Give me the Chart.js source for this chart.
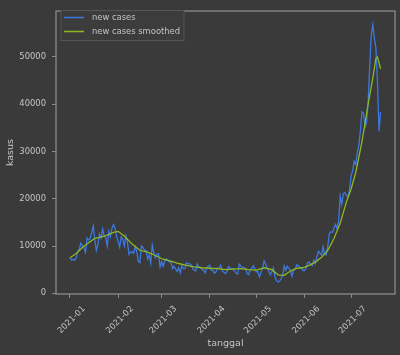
<!DOCTYPE html>
<html>
<head>
<meta charset="utf-8">
<script src="https://cdn.jsdelivr.net/npm/chart.js@4.4.1/dist/chart.umd.min.js"></script>
<style>
  html, body { margin: 0; padding: 0; background: #3a3a3a; }
  canvas { display: block; }
</style>
</head>
<body>
<canvas id="myChart" width="400" height="355"></canvas>
<script>
// daily new cases, 2021-01-01 .. 2021-07-20 (day 0 = 2021-01-01)
const casesJan = [7600, 7000, 7203, 6953, 7445, 8854, 9321, 10617, 10046, 9640, 8692, 11700, 11278, 11557, 12818, 14224, 11287, 9086, 10365, 12568, 11703, 13632, 12191, 11788, 9994, 13094, 11948, 13695, 14518, 13802, 12001];
const casesFeb = [10994, 9759, 11984, 11434, 10023, 12156, 10827, 8242, 8700, 8776, 8435, 9869, 8844, 6765, 6462, 10029, 9687, 9039, 9051, 7300, 8054, 6356, 10180, 8493, 7533, 8232, 8322, 5560];
const casesMar = [6680, 5712, 6808, 7264, 6971, 6614, 6736, 5200, 5663, 5144, 4602, 5382, 4316, 5826, 5218, 5176, 6486, 6195, 6252, 6013, 5267, 4866, 4758, 6172, 5514, 5451, 5042, 4913, 4331, 5297, 5701];
const casesApr = [5937, 4805, 4878, 4236, 4549, 5325, 5205, 5962, 4764, 4447, 4182, 4560, 5656, 5377, 5177, 5188, 4712, 4249, 4069, 6177, 5720, 5537, 5436, 5293, 4221, 3955, 4952, 5241, 5833, 5286];
const casesMay = [4512, 4592, 3480, 4369, 5285, 6874, 6130, 5344, 4729, 3922, 4608, 5384, 3448, 2633, 2385, 2570, 3080, 3846, 5797, 4871, 5746, 5296, 4815, 3600, 4868, 5060, 5993, 5862, 5445, 5466, 4824];
const casesJun = [4824, 5246, 6486, 6594, 6065, 5832, 6993, 6294, 7725, 8892, 8465, 8083, 9868, 8189, 8161, 9944, 12624, 12990, 12906, 13737, 14536, 13668, 15308, 20574, 18872, 21095, 21342, 20694, 20467, 21807];
const casesJul = [24836, 25830, 27913, 27233, 29745, 31189, 34379, 38391, 38124, 35094, 36197, 40427, 47899, 54517, 56757, 54000, 51952, 44721, 34257, 38325];

// smoothed curve, read at these day offsets
const smoothDays = [0, 4, 8, 12, 16, 20, 24, 28, 31, 35, 40, 45, 50, 55, 60, 65, 70, 75, 80, 85, 90, 95, 100, 105, 110, 115, 120, 125, 130, 134, 138, 142, 146, 150, 154, 158, 162, 166, 170, 174, 178, 181, 184, 188, 192, 195, 197, 198, 200];
const smoothValues = [7500, 8400, 9700, 10700, 11600, 11900, 12300, 12900, 13100, 12100, 10400, 9100, 8700, 8000, 7200, 6800, 6300, 5900, 5600, 5400, 5300, 5200, 5000, 5100, 5200, 5000, 4900, 5400, 5000, 3900, 3800, 4700, 5300, 5400, 5900, 6600, 7600, 9100, 11600, 14800, 19300, 22000, 25500, 32000, 40000, 45500, 49700, 50000, 47500];

const monthDays = [0, 31, 59, 90, 120, 151, 181];
const monthLabels = ['2021-01', '2021-02', '2021-03', '2021-04', '2021-05', '2021-06', '2021-07'];
const yTicks = [0, 10000, 20000, 30000, 40000, 50000];

const newCases = [].concat(casesJan, casesFeb, casesMar, casesApr, casesMay, casesJun, casesJul);
const casePoints = newCases.map((v, i) => ({ x: i, y: v }));
const smoothPoints = smoothDays.map((d, i) => ({ x: d, y: smoothValues[i] }));

const textColor = '#c4c4c4';
const spineColor = '#8a8a8a';
const fontFamily = '"DejaVu Sans", sans-serif';

// box around the plot + legend like matplotlib
const framePlugin = {
    id: 'frame',
    afterDraw(chart) {
        const ctx = chart.ctx;
        const a = chart.chartArea;
        ctx.save();
        ctx.strokeStyle = spineColor;
        ctx.lineWidth = 1.3;
        ctx.strokeRect(a.left, a.top, a.right - a.left, a.bottom - a.top);

        // legend
        ctx.fillStyle = '#3c3c3c';
        ctx.strokeStyle = '#555555';
        ctx.lineWidth = 1;
        ctx.fillRect(61, 10.5, 123, 30);
        ctx.strokeRect(61, 10.5, 123, 30);
        const sets = chart.data.datasets.slice().sort((p, q) => p.legendIndex - q.legendIndex);
        ctx.font = '8.4px ' + fontFamily;
        ctx.textBaseline = 'middle';
        sets.forEach((ds, i) => {
            const y = 17.5 + i * 14;
            ctx.strokeStyle = ds.borderColor;
            ctx.lineWidth = 1.5;
            ctx.beginPath();
            ctx.moveTo(64, y);
            ctx.lineTo(84, y);
            ctx.stroke();
            ctx.fillStyle = textColor;
            ctx.fillText(ds.label, 92, y);
        });
        ctx.restore();
    }
};

new Chart(document.getElementById('myChart'), {
    type: 'line',
    data: {
        datasets: [{
            label: 'new cases',
            legendIndex: 0,
            data: casePoints,
            borderColor: '#3b78e0',
            borderWidth: 1.3,
            pointRadius: 0,
            order: 1
        }, {
            label: 'new cases smoothed',
            legendIndex: 1,
            data: smoothPoints,
            borderColor: '#8db81e',
            borderWidth: 1.3,
            pointRadius: 0,
            order: 0
        }]
    },
    options: {
        responsive: false,
        animation: false,
        layout: { padding: { top: 5, right: 5, left: 0, bottom: 0 } },
        plugins: {
            legend: { display: false },
            tooltip: { enabled: false }
        },
        scales: {
            x: {
                type: 'linear',
                min: -9,
                max: 209.3,
                afterBuildTicks: (scale) => { scale.ticks = monthDays.map(v => ({ value: v })); },
                afterFit: (scale) => { scale.height = 61; },
                grid: { display: true, drawOnChartArea: false, color: spineColor, tickLength: 4, lineWidth: 1 },
                border: { display: false },
                ticks: {
                    autoSkip: false,
                    minRotation: 45,
                    maxRotation: 45,
                    labelOffset: 14,
                    padding: 6,
                    color: textColor,
                    font: { family: fontFamily, size: 8.4 },
                    callback: (value) => monthLabels[monthDays.indexOf(value)]
                },
                title: {
                    display: true,
                    text: 'tanggal',
                    color: textColor,
                    font: { family: fontFamily, size: 9.5 },
                    padding: { top: 0, bottom: 6 }
                }
            },
            y: {
                min: -150,
                max: 59700,
                afterBuildTicks: (scale) => { scale.ticks = yTicks.map(v => ({ value: v })); },
                afterFit: (scale) => { scale.width = 56; },
                grid: { display: true, drawOnChartArea: false, color: spineColor, tickLength: 4, lineWidth: 1 },
                border: { display: false },
                ticks: {
                    padding: 6,
                    color: textColor,
                    font: { family: fontFamily, size: 8.4 },
                    callback: (value) => String(value)
                },
                title: {
                    display: true,
                    text: 'kasus',
                    color: textColor,
                    font: { family: fontFamily, size: 9.5 },
                    padding: { top: 5, bottom: 0 }
                }
            }
        }
    },
    plugins: [framePlugin]
});
</script>
</body>
</html>
